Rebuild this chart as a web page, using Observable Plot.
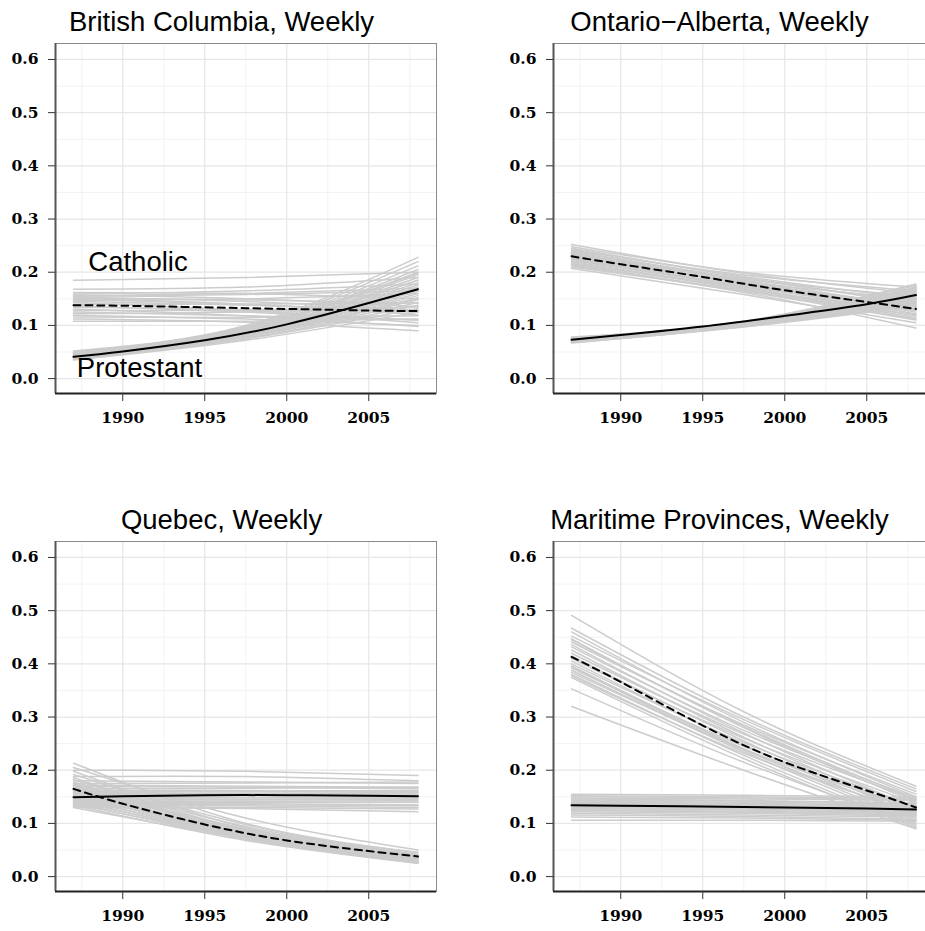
<!DOCTYPE html>
<html>
<head>
<meta charset="utf-8">
<script src="https://cdn.jsdelivr.net/npm/d3@7"></script>
<script src="https://cdn.jsdelivr.net/npm/@observablehq/plot@0.6"></script>
<style>
  html, body { margin: 0; padding: 0; background: #fff; overflow: hidden; }
  #wrap { position: relative; width: 925px; height: 931px; overflow: hidden; }
  .cell { position: absolute; width: 498px; }
  .cell svg { max-width: none !important; }
</style>
</head>
<body>
<div id="wrap"></div>
<script>
// ---------- data ----------
const titles = ["British Columbia, Weekly", "Ontario\u2212Alberta, Weekly", "Quebec, Weekly", "Maritime Provinces, Weekly"];
const mainYears = [1987, 1990, 1995, 2000, 2005, 2008];
const simYears = [1987, 1997.5, 2008];
const xTicks = [1990, 1995, 2000, 2005];
const xMinor = [1987.5, 1992.5, 1997.5, 2002.5, 2007.5];
const yTicks = [0, 0.1, 0.2, 0.3, 0.4, 0.5, 0.6];
const yMinor = [0.05, 0.15, 0.25, 0.35, 0.45, 0.55];

// point estimates (solid = Protestant, dashed = Catholic)
const bcProt = [0.041, 0.051, 0.072, 0.102, 0.142, 0.168];
const bcCath = [0.138, 0.137, 0.134, 0.131, 0.128, 0.127];
const onProt = [0.073, 0.082, 0.098, 0.118, 0.140, 0.157];
const onCath = [0.230, 0.215, 0.191, 0.166, 0.144, 0.131];
const qcProt = [0.149, 0.151, 0.153, 0.153, 0.152, 0.151];
const qcCath = [0.165, 0.137, 0.098, 0.068, 0.048, 0.038];
const mpProt = [0.134, 0.133, 0.132, 0.130, 0.128, 0.126];
const mpCath = [0.413, 0.366, 0.284, 0.215, 0.162, 0.130];

// simulation draws (grey lines): values at 1987, 1997.5, 2008
const bcCathS = [0.185,0.168,0.162,0.159,0.157,0.155,0.153,0.151,0.149,0.147,0.145,0.143,0.140,0.137,0.134,0.131,0.128,0.125,0.122,0.119,0.116,0.112,0.108,0.150,0.156];
const bcCathM = [0.190,0.172,0.160,0.165,0.150,0.158,0.145,0.148,0.140,0.150,0.138,0.128,0.140,0.125,0.130,0.118,0.128,0.118,0.125,0.112,0.115,0.106,0.108,0.140,0.160];
const bcCathE = [0.200,0.190,0.150,0.178,0.135,0.165,0.128,0.142,0.125,0.160,0.128,0.105,0.142,0.110,0.125,0.098,0.130,0.110,0.135,0.100,0.118,0.090,0.112,0.120,0.170];
const bcProtS = [0.052,0.050,0.049,0.048,0.047,0.046,0.045,0.045,0.044,0.043,0.043,0.042,0.041,0.040,0.040,0.039,0.038,0.038,0.037,0.036,0.035,0.046,0.044,0.042,0.048];
const bcProtM = [0.100,0.098,0.096,0.094,0.093,0.092,0.090,0.089,0.088,0.087,0.086,0.085,0.084,0.083,0.082,0.080,0.079,0.078,0.076,0.075,0.072,0.091,0.087,0.081,0.095];
const bcProtE = [0.228,0.220,0.212,0.205,0.200,0.195,0.190,0.185,0.180,0.176,0.172,0.168,0.164,0.160,0.156,0.152,0.148,0.143,0.138,0.132,0.125,0.185,0.170,0.150,0.198];

const onCathS = [0.252,0.248,0.245,0.242,0.240,0.238,0.236,0.234,0.232,0.230,0.228,0.226,0.224,0.222,0.220,0.218,0.216,0.214,0.212,0.210,0.207,0.244,0.235,0.225,0.215];
const onCathM = [0.198,0.200,0.190,0.195,0.188,0.185,0.183,0.187,0.180,0.178,0.182,0.175,0.172,0.176,0.170,0.168,0.172,0.165,0.162,0.166,0.158,0.192,0.180,0.174,0.164];
const onCathE = [0.160,0.172,0.140,0.165,0.145,0.135,0.130,0.155,0.128,0.125,0.150,0.122,0.118,0.140,0.115,0.112,0.135,0.110,0.095,0.128,0.105,0.150,0.138,0.132,0.120];
const onProtS = [0.078,0.077,0.076,0.076,0.075,0.075,0.074,0.074,0.073,0.073,0.072,0.072,0.071,0.071,0.070,0.070,0.069,0.069,0.068,0.068,0.067,0.076,0.074,0.072,0.070];
const onProtM = [0.108,0.107,0.106,0.106,0.105,0.105,0.104,0.104,0.103,0.103,0.102,0.102,0.101,0.101,0.100,0.100,0.099,0.099,0.098,0.098,0.097,0.106,0.104,0.102,0.100];
const onProtE = [0.178,0.175,0.172,0.170,0.168,0.166,0.164,0.162,0.160,0.158,0.156,0.155,0.153,0.151,0.149,0.147,0.145,0.143,0.141,0.139,0.136,0.170,0.163,0.157,0.150];

const qcCathS = [0.213,0.205,0.198,0.192,0.186,0.182,0.178,0.175,0.172,0.169,0.166,0.163,0.160,0.158,0.156,0.153,0.150,0.148,0.145,0.142,0.140,0.137,0.134,0.130,0.170];
const qcCathM = [0.100,0.110,0.092,0.098,0.088,0.094,0.085,0.090,0.083,0.087,0.080,0.084,0.078,0.082,0.076,0.080,0.074,0.078,0.072,0.076,0.070,0.074,0.068,0.072,0.090];
const qcCathE = [0.040,0.050,0.036,0.045,0.033,0.042,0.032,0.040,0.031,0.038,0.030,0.036,0.029,0.035,0.028,0.034,0.027,0.033,0.026,0.032,0.025,0.030,0.025,0.028,0.046];
const qcProtS = [0.200,0.188,0.180,0.175,0.170,0.166,0.163,0.160,0.158,0.156,0.154,0.152,0.150,0.148,0.146,0.144,0.142,0.140,0.138,0.136,0.134,0.132,0.130,0.172,0.162];
const qcProtM = [0.198,0.188,0.178,0.176,0.168,0.166,0.162,0.161,0.157,0.156,0.153,0.153,0.149,0.148,0.145,0.144,0.141,0.140,0.137,0.135,0.133,0.130,0.128,0.170,0.160];
const qcProtE = [0.190,0.180,0.175,0.178,0.165,0.168,0.160,0.162,0.155,0.157,0.150,0.153,0.147,0.148,0.143,0.145,0.140,0.140,0.135,0.133,0.130,0.127,0.122,0.168,0.158];

const mpCathS = [0.491,0.467,0.460,0.452,0.447,0.441,0.436,0.432,0.426,0.420,0.415,0.410,0.405,0.400,0.396,0.392,0.388,0.384,0.380,0.377,0.374,0.353,0.320,0.445,0.395];
const mpCathM = [0.310,0.300,0.290,0.295,0.280,0.285,0.270,0.275,0.262,0.268,0.255,0.260,0.248,0.252,0.240,0.245,0.235,0.240,0.228,0.232,0.222,0.215,0.200,0.282,0.238];
const mpCathE = [0.170,0.165,0.150,0.160,0.140,0.155,0.128,0.148,0.120,0.145,0.115,0.138,0.110,0.132,0.105,0.128,0.100,0.125,0.095,0.120,0.092,0.098,0.090,0.145,0.118];
const mpProtS = [0.155,0.152,0.150,0.148,0.146,0.144,0.142,0.140,0.138,0.137,0.136,0.135,0.134,0.133,0.132,0.131,0.130,0.128,0.126,0.124,0.122,0.119,0.116,0.112,0.106];
const mpProtM = [0.153,0.150,0.148,0.146,0.143,0.142,0.140,0.138,0.136,0.134,0.133,0.132,0.131,0.130,0.129,0.128,0.127,0.125,0.123,0.121,0.119,0.116,0.113,0.110,0.106];
const mpProtE = [0.150,0.147,0.145,0.143,0.138,0.139,0.136,0.134,0.132,0.129,0.128,0.127,0.126,0.125,0.124,0.123,0.122,0.120,0.118,0.116,0.114,0.112,0.108,0.106,0.104];

// annotations (first panel only), in data units
const annotText = ["Catholic", "Protestant"];
const annotYear = [1987.9, 1987.2];
const annotValue = [0.203, 0.003];

// ---------- build ----------
const panels = [
  {title: titles[0], prot: bcProt, cath: bcCath, sims: [[bcCathS, bcCathM, bcCathE], [bcProtS, bcProtM, bcProtE]], annot: true},
  {title: titles[1], prot: onProt, cath: onCath, sims: [[onCathS, onCathM, onCathE], [onProtS, onProtM, onProtE]]},
  {title: titles[2], prot: qcProt, cath: qcCath, sims: [[qcCathS, qcCathM, qcCathE], [qcProtS, qcProtM, qcProtE]]},
  {title: titles[3], prot: mpProt, cath: mpCath, sims: [[mpCathS, mpCathM, mpCathE], [mpProtS, mpProtM, mpProtE]]}
];

const xDomain = [1985.9, 2009.13];
const yDomain = [-0.028, 0.630];
const sans = "'Liberation Sans', Arial, Helvetica, sans-serif";
const serif = "'DejaVu Serif', serif";

function makePanel(p, height, marginBottom) {
  const grey = [];
  p.sims.forEach((set, k) => {
    set[0].forEach((_, i) => {
      simYears.forEach((year, j) => grey.push({id: k + "-" + i, year, v: set[j][i]}));
    });
  });
  const prot = mainYears.map((year, i) => ({year, v: p.prot[i]}));
  const cath = mainYears.map((year, i) => ({year, v: p.cath[i]}));
  const marks = [
    Plot.gridX(xMinor, {stroke: "#f3f3f3", strokeOpacity: 1, strokeWidth: 1}),
    Plot.gridY(yMinor, {stroke: "#f3f3f3", strokeOpacity: 1, strokeWidth: 1}),
    Plot.gridX(xTicks, {stroke: "#e6e6e6", strokeOpacity: 1, strokeWidth: 1.2}),
    Plot.gridY(yTicks, {stroke: "#e6e6e6", strokeOpacity: 1, strokeWidth: 1.2}),
    Plot.line(grey, {x: "year", y: "v", z: "id", stroke: "#cccccc", strokeWidth: 1.5, curve: "natural"}),
    Plot.line(cath, {x: "year", y: "v", stroke: "black", strokeWidth: 2, strokeDasharray: "7,5", curve: "natural"}),
    Plot.line(prot, {x: "year", y: "v", stroke: "black", strokeWidth: 2, curve: "natural"}),
    Plot.frame({stroke: "#8a8a8a", strokeWidth: 1}),
    Plot.ruleX([xDomain[0]], {stroke: "#555", strokeWidth: 2}),
    Plot.ruleY([yDomain[0]], {stroke: "#222", strokeWidth: 2}),
    Plot.axisY(yTicks, {tickSize: 7, tickPadding: 10, tickFormat: d3.format(".1f"), stroke: "#333", fill: "black", fontSize: 15.5, fontWeight: "bold", fontFamily: serif}),
    Plot.axisX(xTicks, {tickSize: 8, tickPadding: 10, tickFormat: d => String(d), stroke: "#333", fill: "black", fontSize: 15.5, fontWeight: "bold", fontFamily: serif}),
    Plot.text([p.title], {text: d => d, frameAnchor: "top", dx: -24.5, dy: -13, lineAnchor: "bottom", fontSize: 27.5, fontFamily: sans, fill: "black"})
  ];
  if (p.annot) {
    marks.push(Plot.text(annotText, {x: (d, i) => annotYear[i], y: (d, i) => annotValue[i], text: d => d, textAnchor: "start", lineAnchor: "bottom", fontSize: 27.5, fontFamily: sans, fill: "black"}));
  }
  return Plot.plot({
    width: 498,
    height,
    marginLeft: 55,
    marginRight: 62,
    marginTop: 43,
    marginBottom,
    x: {domain: xDomain, label: null},
    y: {domain: yDomain, label: null},
    style: {fontFamily: serif, fontSize: "15.5px", background: "transparent", overflow: "visible", color: "black", maxWidth: "none"},
    marks
  });
}

const wrap = document.getElementById("wrap");
const pos = [[0, 0], [498, 0], [0, 498], [498, 498]];
panels.forEach((p, i) => {
  const div = document.createElement("div");
  div.className = "cell";
  div.style.left = pos[i][0] + "px";
  div.style.top = pos[i][1] + "px";
  const h = i < 2 ? 440 : 433;
  div.appendChild(makePanel(p, h, h - 43 - 350));
  wrap.appendChild(div);
});
</script>
</body>
</html>
